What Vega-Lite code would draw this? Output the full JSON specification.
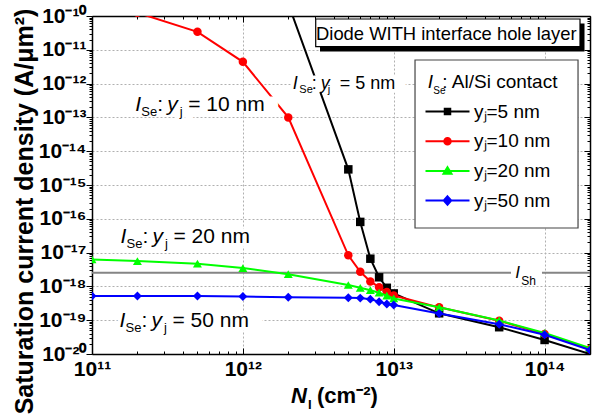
{
  "$schema": "https://vega.github.io/schema/vega-lite/v6.json",
  "width": 498,
  "height": 338,
  "autosize": "none",
  "padding": {"left": 92, "top": 16, "right": 10, "bottom": 60},
  "config": {
    "font": "Liberation Sans",
    "view": {"stroke": null},
    "text": {"font": "Liberation Sans", "color": "black"}
  },
  "datasets": {
    "pts": [
      {"N": 2e12, "J": 2.3e-10, "s": "5 nm"},
      {"N": 5e12, "J": 2.9e-15, "s": "5 nm"},
      {"N": 6e12, "J": 8.1e-17, "s": "5 nm"},
      {"N": 7e12, "J": 6.6e-18, "s": "5 nm"},
      {"N": 8e12, "J": 1.86e-18, "s": "5 nm"},
      {"N": 9e12, "J": 9.1e-19, "s": "5 nm"},
      {"N": 1e13, "J": 6.2e-19, "s": "5 nm"},
      {"N": 2e13, "J": 1.6e-19, "s": "5 nm"},
      {"N": 5e13, "J": 6.2e-20, "s": "5 nm"},
      {"N": 1e14, "J": 2.6e-20, "s": "5 nm"},
      {"N": 2e14, "J": 1.0e-20, "s": "5 nm"},
      {"N": 2e11, "J": 1.25e-10, "s": "10 nm"},
      {"N": 5e11, "J": 3.4e-11, "s": "10 nm"},
      {"N": 1e12, "J": 4.4e-12, "s": "10 nm"},
      {"N": 2e12, "J": 1.0e-13, "s": "10 nm"},
      {"N": 5e12, "J": 8.3e-18, "s": "10 nm"},
      {"N": 6e12, "J": 2.7e-18, "s": "10 nm"},
      {"N": 7e12, "J": 1.4e-18, "s": "10 nm"},
      {"N": 8e12, "J": 9.5e-19, "s": "10 nm"},
      {"N": 9e12, "J": 6.8e-19, "s": "10 nm"},
      {"N": 1e13, "J": 5.4e-19, "s": "10 nm"},
      {"N": 2e13, "J": 2.4e-19, "s": "10 nm"},
      {"N": 5e13, "J": 9.6e-20, "s": "10 nm"},
      {"N": 1e14, "J": 3.9e-20, "s": "10 nm"},
      {"N": 2e14, "J": 1.4e-20, "s": "10 nm"},
      {"N": 1e11, "J": 6.3e-18, "s": "20 nm"},
      {"N": 2e11, "J": 5.6e-18, "s": "20 nm"},
      {"N": 5e11, "J": 4.7e-18, "s": "20 nm"},
      {"N": 1e12, "J": 3.5e-18, "s": "20 nm"},
      {"N": 2e12, "J": 2.3e-18, "s": "20 nm"},
      {"N": 5e12, "J": 1.1e-18, "s": "20 nm"},
      {"N": 6e12, "J": 9.1e-19, "s": "20 nm"},
      {"N": 7e12, "J": 7.7e-19, "s": "20 nm"},
      {"N": 8e12, "J": 6.5e-19, "s": "20 nm"},
      {"N": 9e12, "J": 5.3e-19, "s": "20 nm"},
      {"N": 1e13, "J": 4.4e-19, "s": "20 nm"},
      {"N": 2e13, "J": 2.4e-19, "s": "20 nm"},
      {"N": 5e13, "J": 9.8e-20, "s": "20 nm"},
      {"N": 1e14, "J": 4.2e-20, "s": "20 nm"},
      {"N": 2e14, "J": 1.5e-20, "s": "20 nm"},
      {"N": 1e11, "J": 5.2e-19, "s": "50 nm"},
      {"N": 2e11, "J": 5.2e-19, "s": "50 nm"},
      {"N": 5e11, "J": 5.2e-19, "s": "50 nm"},
      {"N": 1e12, "J": 5.0e-19, "s": "50 nm"},
      {"N": 2e12, "J": 4.8e-19, "s": "50 nm"},
      {"N": 5e12, "J": 4.6e-19, "s": "50 nm"},
      {"N": 6e12, "J": 4.5e-19, "s": "50 nm"},
      {"N": 7e12, "J": 4.2e-19, "s": "50 nm"},
      {"N": 8e12, "J": 3.5e-19, "s": "50 nm"},
      {"N": 9e12, "J": 3.0e-19, "s": "50 nm"},
      {"N": 1e13, "J": 2.8e-19, "s": "50 nm"},
      {"N": 2e13, "J": 1.58e-19, "s": "50 nm"},
      {"N": 5e13, "J": 7.6e-20, "s": "50 nm"},
      {"N": 1e14, "J": 3.7e-20, "s": "50 nm"},
      {"N": 2e14, "J": 1.3e-20, "s": "50 nm"}
    ],
    "labA": [
      {"x": 1.934e11, "y": 1.546e-13, "rest": "= 10 nm", "halo": "ISe: yj = 10 nm"},
      {"x": 1.545e11, "y": 1.884e-17, "rest": "= 20 nm", "halo": "ISe: yj = 20 nm"},
      {"x": 1.522e11, "y": 6.42e-20, "rest": "= 50 nm", "halo": "ISe: yj = 50 nm"}
    ],
    "labB": [
      {"x": 2.143e12, "y": 6.78e-13, "rest": "= 5 nm", "halo": "ISe: yj = 5 nm"}
    ],
    "ltit": [{"x": 1.682e13, "y": 7.26e-13, "rest": ": Al/Si contact"}],
    "ish": [
      {"x": 1e11, "x2": 5.99e13, "v": 2.55e-18},
      {"x": 9.61e13, "x2": 2e14, "v": 2.55e-18}
    ],
    "ishl": [{"x": 6.4e13, "y": 1.81e-18}],
    "legbox": [{"x": 1.384e13, "x2": 1.666e14, "y": 4.99e-12, "y2": 5.34e-17}],
    "shadow": [{"x": 3.246e12, "x2": 1.839e14, "y": 6.0e-11, "y2": 8.91e-12}],
    "tbox": [{"x": 3.04e12, "x2": 1.717e14, "y": 8.15e-11, "y2": 1.235e-11}],
    "ttext": [{"x": 3.054e12, "y": 1.95e-11, "t": "Diode WITH interface hole layer"}],
    "xt": [{"x": 2.085e12, "y": 1e-20}]
  },
  "resolve": {"axis": {"x": "independent", "y": "independent"}},
  "layer": [
    {
      "data": {"name": "legbox"},
      "mark": {"type": "rect", "fill": "white", "stroke": "#444", "strokeWidth": 1.2},
      "encoding": {
        "x": {"field": "x", "type": "quantitative", "scale": {"type": "log", "domain": [1e11, 2e14], "nice": false}, "axis": null},
        "x2": {"field": "x2"},
        "y": {"field": "y", "type": "quantitative", "scale": {"type": "log", "domain": [1e-20, 1e-10], "nice": false}, "axis": null},
        "y2": {"field": "y2"}
      }
    },
    {
      "data": {"name": "ish"},
      "mark": {"type": "rule", "color": "#858585", "strokeWidth": 2},
      "encoding": {
        "x": {"field": "x", "type": "quantitative", "scale": {"type": "log", "domain": [1e11, 2e14], "nice": false}, "axis": null},
        "x2": {"field": "x2"},
        "y": {"field": "v", "type": "quantitative", "scale": {"type": "log", "domain": [1e-20, 1e-10], "nice": false}, "axis": null}
      }
    },
    {
      "data": {"name": "pts"},
      "transform": [{"filter": "datum.s == '5 nm'"}],
      "mark": {"type": "line", "color": "#000000", "strokeWidth": 2, "clip": true,
               "point": {"filled": true, "shape": "square", "size": 72, "color": "#000000", "clip": true}},
      "encoding": {
        "x": {
          "field": "N", "type": "quantitative",
          "scale": {"type": "log", "domain": [1e11, 2e14], "nice": false},
          "axis": {
            "orient": "bottom",
            "values": [1e11,2e11,3e11,4e11,5e11,6e11,7e11,8e11,9e11,1e12,2e12,3e12,4e12,5e12,6e12,7e12,8e12,9e12,1e13,2e13,3e13,4e13,5e13,6e13,7e13,8e13,9e13,1e14,2e14],
            "labelExpr": "abs(log(datum.value)/LN10 - round(log(datum.value)/LN10)) < 0.01 ? '10' + ['¹¹','¹²','¹³','¹⁴'][round(log(datum.value)/LN10) - 11] : ''",
            "labelFont": "Liberation Sans", "labelFontSize": 21, "labelFontWeight": "bold", "labelColor": "black",
            "labelPadding": 10, "labelFlush": false, "labelOverlap": false, "labelBound": false,
            "tickColor": "black", "tickWidth": 1,
            "tickSize": {"condition": {"test": "abs(log(datum.value)/LN10 - round(log(datum.value)/LN10)) < 0.01", "value": -6}, "value": -3},
            "grid": true, "gridColor": "#b0b0b0", "gridDash": [2, 2], "gridWidth": 1,
            "gridOpacity": {"condition": {"test": "abs(log(datum.value)/LN10 - round(log(datum.value)/LN10)) < 0.01", "value": 1}, "value": 0},
            "domainColor": "black", "domainWidth": 1.5,
            "title": null
          }
        },
        "y": {
          "field": "J", "type": "quantitative",
          "scale": {"type": "log", "domain": [1e-20, 1e-10], "nice": false},
          "axis": {
            "orient": "left",
            "values": [1e-20,2e-20,3e-20,4e-20,5e-20,6e-20,7e-20,8e-20,9e-20,1e-19,2e-19,3e-19,4e-19,5e-19,6e-19,7e-19,8e-19,9e-19,1e-18,2e-18,3e-18,4e-18,5e-18,6e-18,7e-18,8e-18,9e-18,1e-17,2e-17,3e-17,4e-17,5e-17,6e-17,7e-17,8e-17,9e-17,1e-16,2e-16,3e-16,4e-16,5e-16,6e-16,7e-16,8e-16,9e-16,1e-15,2e-15,3e-15,4e-15,5e-15,6e-15,7e-15,8e-15,9e-15,1e-14,2e-14,3e-14,4e-14,5e-14,6e-14,7e-14,8e-14,9e-14,1e-13,2e-13,3e-13,4e-13,5e-13,6e-13,7e-13,8e-13,9e-13,1e-12,2e-12,3e-12,4e-12,5e-12,6e-12,7e-12,8e-12,9e-12,1e-11,2e-11,3e-11,4e-11,5e-11,6e-11,7e-11,8e-11,9e-11,1e-10],
            "labelExpr": "abs(log(datum.value)/LN10 - round(log(datum.value)/LN10)) < 0.01 ? '10' + ['⁻²⁰','⁻¹⁹','⁻¹⁸','⁻¹⁷','⁻¹⁶','⁻¹⁵','⁻¹⁴','⁻¹³','⁻¹²','⁻¹¹','⁻¹⁰'][round(log(datum.value)/LN10) + 20] : ''",
            "labelFont": "Liberation Sans", "labelFontSize": 21, "labelFontWeight": "bold", "labelColor": "black",
            "labelPadding": 0, "labelFlush": false, "labelOverlap": false, "labelBound": false,
            "tickColor": "black", "tickWidth": 1,
            "tickSize": {"condition": {"test": "abs(log(datum.value)/LN10 - round(log(datum.value)/LN10)) < 0.01", "value": 6}, "value": 3},
            "grid": true, "gridColor": "#b0b0b0", "gridDash": [2, 2], "gridWidth": 1,
            "gridOpacity": {"condition": {"test": "abs(log(datum.value)/LN10 - round(log(datum.value)/LN10)) < 0.01", "value": 1}, "value": 0},
            "domainColor": "black", "domainWidth": 1.5,
            "title": "Saturation current density (A/μm²)",
            "titleFont": "Liberation Sans", "titleFontSize": 25, "titleFontWeight": "bold", "titleColor": "black",
            "titleAngle": -90, "titleAlign": "center", "titleBaseline": "alphabetic",
            "titleX": -60, "titleY": 195
          }
        }
      }
    },
    {
      "data": {"name": "pts"},
      "transform": [{"filter": "datum.s == '10 nm'"}],
      "mark": {"type": "line", "color": "#ff0000", "strokeWidth": 2, "clip": true,
               "point": {"filled": true, "shape": "circle", "size": 72, "color": "#ff0000", "clip": true}},
      "encoding": {
        "x": {
          "field": "N", "type": "quantitative",
          "scale": {"type": "log", "domain": [1e11, 2e14], "nice": false},
          "axis": {
            "orient": "top",
            "values": [1e11,2e11,3e11,4e11,5e11,6e11,7e11,8e11,9e11,1e12,2e12,3e12,4e12,5e12,6e12,7e12,8e12,9e12,1e13,2e13,3e13,4e13,5e13,6e13,7e13,8e13,9e13,1e14,2e14],
            "labels": false, "grid": false, "title": null,
            "tickColor": "black", "tickWidth": 1,
            "tickSize": {"condition": {"test": "abs(log(datum.value)/LN10 - round(log(datum.value)/LN10)) < 0.01", "value": -6}, "value": -3},
            "domainColor": "black", "domainWidth": 1.5
          }
        },
        "y": {
          "field": "J", "type": "quantitative",
          "scale": {"type": "log", "domain": [1e-20, 1e-10], "nice": false},
          "axis": {
            "orient": "right",
            "values": [1e-20,2e-20,3e-20,4e-20,5e-20,6e-20,7e-20,8e-20,9e-20,1e-19,2e-19,3e-19,4e-19,5e-19,6e-19,7e-19,8e-19,9e-19,1e-18,2e-18,3e-18,4e-18,5e-18,6e-18,7e-18,8e-18,9e-18,1e-17,2e-17,3e-17,4e-17,5e-17,6e-17,7e-17,8e-17,9e-17,1e-16,2e-16,3e-16,4e-16,5e-16,6e-16,7e-16,8e-16,9e-16,1e-15,2e-15,3e-15,4e-15,5e-15,6e-15,7e-15,8e-15,9e-15,1e-14,2e-14,3e-14,4e-14,5e-14,6e-14,7e-14,8e-14,9e-14,1e-13,2e-13,3e-13,4e-13,5e-13,6e-13,7e-13,8e-13,9e-13,1e-12,2e-12,3e-12,4e-12,5e-12,6e-12,7e-12,8e-12,9e-12,1e-11,2e-11,3e-11,4e-11,5e-11,6e-11,7e-11,8e-11,9e-11,1e-10],
            "labels": false, "grid": false, "title": null,
            "tickColor": "black", "tickWidth": 1,
            "tickSize": {"condition": {"test": "abs(log(datum.value)/LN10 - round(log(datum.value)/LN10)) < 0.01", "value": -6}, "value": -3},
            "domainColor": "black", "domainWidth": 1.5
          }
        }
      }
    },
    {
      "data": {"name": "pts"},
      "transform": [{"filter": "datum.s == '20 nm'"}],
      "mark": {"type": "line", "color": "#00ff00", "strokeWidth": 2, "clip": true,
               "point": {"filled": true, "shape": "triangle-up", "size": 80, "color": "#00ff00", "clip": true}},
      "encoding": {
        "x": {"field": "N", "type": "quantitative", "scale": {"type": "log", "domain": [1e11, 2e14], "nice": false}, "axis": null},
        "y": {"field": "J", "type": "quantitative", "scale": {"type": "log", "domain": [1e-20, 1e-10], "nice": false}, "axis": null}
      }
    },
    {
      "data": {"name": "pts"},
      "transform": [{"filter": "datum.s == '50 nm'"}],
      "mark": {"type": "line", "color": "#0000ff", "strokeWidth": 2, "clip": true,
               "point": {"filled": true, "shape": "diamond", "size": 80, "color": "#0000ff", "clip": true}},
      "encoding": {
        "x": {"field": "N", "type": "quantitative", "scale": {"type": "log", "domain": [1e11, 2e14], "nice": false}, "axis": null},
        "y": {"field": "J", "type": "quantitative", "scale": {"type": "log", "domain": [1e-20, 1e-10], "nice": false}, "axis": null}
      }
    },
    {
      "data": {"name": "pts"},
      "mark": {"type": "point", "filled": true, "opacity": 0, "strokeWidth": 2, "clip": true},
      "encoding": {
        "x": {"field": "N", "type": "quantitative", "scale": {"type": "log", "domain": [1e11, 2e14], "nice": false}, "axis": null},
        "y": {"field": "J", "type": "quantitative", "scale": {"type": "log", "domain": [1e-20, 1e-10], "nice": false}, "axis": null},
        "fill": {
          "field": "s", "type": "nominal",
          "scale": {"domain": ["5 nm", "10 nm", "20 nm", "50 nm"], "range": ["#000000", "#ff0000", "#00ff00", "#0000ff"]},
          "legend": {
            "orient": "none", "legendX": 346, "legendY": 86, "title": null,
            "labelExpr": "'yⱼ=' + datum.label",
            "labelFont": "Liberation Sans", "labelFontSize": 19, "labelColor": "black",
            "symbolSize": 100, "symbolStrokeWidth": 2, "symbolOpacity": 1,
            "labelOffset": 17, "rowPadding": 9.7, "padding": 0
          }
        },
        "stroke": {
          "field": "s", "type": "nominal",
          "scale": {"domain": ["5 nm", "10 nm", "20 nm", "50 nm"], "range": ["#000000", "#ff0000", "#00ff00", "#0000ff"]},
          "legend": {
            "orient": "none", "legendX": 346, "legendY": 86, "title": null,
            "labelExpr": "'yⱼ=' + datum.label",
            "labelFont": "Liberation Sans", "labelFontSize": 19, "labelColor": "black",
            "symbolSize": 100, "symbolStrokeWidth": 2, "symbolOpacity": 1,
            "labelOffset": 17, "rowPadding": 9.7, "padding": 0
          }
        },
        "shape": {
          "field": "s", "type": "nominal",
          "scale": {"domain": ["5 nm", "10 nm", "20 nm", "50 nm"], "range": [
            "M-4.4,0H4.4M-0.55,-0.55H0.55V0.55H-0.55Z",
            "M-4.4,0H4.4M-0.65,0A0.65,0.65 0 1,1 0.65,0A0.65,0.65 0 1,1 -0.65,0Z",
            "M-4.4,0H4.4M0,-0.75L0.8,0.55H-0.8Z",
            "M-4.4,0H4.4M0,-0.85L0.75,0L0,0.85L-0.75,0Z"
          ]},
          "legend": {
            "orient": "none", "legendX": 346, "legendY": 86, "title": null,
            "labelExpr": "'yⱼ=' + datum.label",
            "labelFont": "Liberation Sans", "labelFontSize": 19, "labelColor": "black",
            "symbolSize": 100, "symbolStrokeWidth": 2, "symbolOpacity": 1,
            "labelOffset": 17, "rowPadding": 9.7, "padding": 0
          }
        }
      }
    },
    {
      "data": {"name": "labA"},
      "mark": {"type": "text", "align": "left", "baseline": "alphabetic", "fontSize": 21, "fill": "white", "stroke": "white", "strokeWidth": 7},
      "encoding": {
        "x": {"field": "x", "type": "quantitative", "scale": {"type": "log", "domain": [1e11, 2e14], "nice": false}, "axis": null},
        "y": {"field": "y", "type": "quantitative", "scale": {"type": "log", "domain": [1e-20, 1e-10], "nice": false}, "axis": null},
        "text": {"field": "halo"}
      }
    },
    {
      "data": {"name": "labB"},
      "mark": {"type": "text", "align": "left", "baseline": "alphabetic", "fontSize": 18, "fill": "white", "stroke": "white", "strokeWidth": 7},
      "encoding": {
        "x": {"field": "x", "type": "quantitative", "scale": {"type": "log", "domain": [1e11, 2e14], "nice": false}, "axis": null},
        "y": {"field": "y", "type": "quantitative", "scale": {"type": "log", "domain": [1e-20, 1e-10], "nice": false}, "axis": null},
        "text": {"field": "halo"}
      }
    },
    {
      "data": {"name": "labA"},
      "encoding": {
        "x": {"field": "x", "type": "quantitative", "scale": {"type": "log", "domain": [1e11, 2e14], "nice": false}, "axis": null},
        "y": {"field": "y", "type": "quantitative", "scale": {"type": "log", "domain": [1e-20, 1e-10], "nice": false}, "axis": null}
      },
      "layer": [
        {"mark": {"type": "text", "align": "left", "baseline": "alphabetic", "fontSize": 21, "fontStyle": "italic", "text": "I"}},
        {"mark": {"type": "text", "align": "left", "baseline": "alphabetic", "fontSize": 13, "dx": 6, "dy": 5, "text": "Se"}},
        {"mark": {"type": "text", "align": "left", "baseline": "alphabetic", "fontSize": 21, "dx": 22, "text": ":"}},
        {"mark": {"type": "text", "align": "left", "baseline": "alphabetic", "fontSize": 21, "fontStyle": "italic", "dx": 32, "text": "y"}},
        {"mark": {"type": "text", "align": "left", "baseline": "alphabetic", "fontSize": 13, "dx": 44.5, "dy": 5, "text": "j"}},
        {"mark": {"type": "text", "align": "left", "baseline": "alphabetic", "fontSize": 21, "dx": 53}, "encoding": {"text": {"field": "rest"}}}
      ]
    },
    {
      "data": {"name": "labB"},
      "encoding": {
        "x": {"field": "x", "type": "quantitative", "scale": {"type": "log", "domain": [1e11, 2e14], "nice": false}, "axis": null},
        "y": {"field": "y", "type": "quantitative", "scale": {"type": "log", "domain": [1e-20, 1e-10], "nice": false}, "axis": null}
      },
      "layer": [
        {"mark": {"type": "text", "align": "left", "baseline": "alphabetic", "fontSize": 18, "fontStyle": "italic", "text": "I"}},
        {"mark": {"type": "text", "align": "left", "baseline": "alphabetic", "fontSize": 11, "dx": 6.5, "dy": 4, "text": "Se"}},
        {"mark": {"type": "text", "align": "left", "baseline": "alphabetic", "fontSize": 18, "dx": 19, "text": ":"}},
        {"mark": {"type": "text", "align": "left", "baseline": "alphabetic", "fontSize": 18, "fontStyle": "italic", "dx": 28, "text": "y"}},
        {"mark": {"type": "text", "align": "left", "baseline": "alphabetic", "fontSize": 11, "dx": 35, "dy": 4, "text": "j"}},
        {"mark": {"type": "text", "align": "left", "baseline": "alphabetic", "fontSize": 18, "dx": 47}, "encoding": {"text": {"field": "rest"}}}
      ]
    },
    {
      "data": {"name": "ltit"},
      "encoding": {
        "x": {"field": "x", "type": "quantitative", "scale": {"type": "log", "domain": [1e11, 2e14], "nice": false}, "axis": null},
        "y": {"field": "y", "type": "quantitative", "scale": {"type": "log", "domain": [1e-20, 1e-10], "nice": false}, "axis": null}
      },
      "layer": [
        {"mark": {"type": "text", "align": "left", "baseline": "alphabetic", "fontSize": 19, "fontStyle": "italic", "text": "I"}},
        {"mark": {"type": "text", "align": "left", "baseline": "alphabetic", "fontSize": 10, "dx": 5.5, "dy": 6, "text": "Se"}},
        {"mark": {"type": "text", "align": "left", "baseline": "alphabetic", "fontSize": 19, "dx": 14.5}, "encoding": {"text": {"field": "rest"}}}
      ]
    },
    {
      "data": {"name": "ishl"},
      "encoding": {
        "x": {"field": "x", "type": "quantitative", "scale": {"type": "log", "domain": [1e11, 2e14], "nice": false}, "axis": null},
        "y": {"field": "y", "type": "quantitative", "scale": {"type": "log", "domain": [1e-20, 1e-10], "nice": false}, "axis": null}
      },
      "layer": [
        {"mark": {"type": "text", "align": "left", "baseline": "alphabetic", "fontSize": 17, "fontStyle": "italic", "text": "I"}},
        {"mark": {"type": "text", "align": "left", "baseline": "alphabetic", "fontSize": 12, "dx": 6, "dy": 7, "text": "Sh"}}
      ]
    },
    {
      "data": {"name": "shadow"},
      "mark": {"type": "rect", "fill": "black"},
      "encoding": {
        "x": {"field": "x", "type": "quantitative", "scale": {"type": "log", "domain": [1e11, 2e14], "nice": false}, "axis": null},
        "x2": {"field": "x2"},
        "y": {"field": "y", "type": "quantitative", "scale": {"type": "log", "domain": [1e-20, 1e-10], "nice": false}, "axis": null},
        "y2": {"field": "y2"}
      }
    },
    {
      "data": {"name": "tbox"},
      "mark": {"type": "rect", "fill": "white", "stroke": "black", "strokeWidth": 1.2},
      "encoding": {
        "x": {"field": "x", "type": "quantitative", "scale": {"type": "log", "domain": [1e11, 2e14], "nice": false}, "axis": null},
        "x2": {"field": "x2"},
        "y": {"field": "y", "type": "quantitative", "scale": {"type": "log", "domain": [1e-20, 1e-10], "nice": false}, "axis": null},
        "y2": {"field": "y2"}
      }
    },
    {
      "data": {"name": "ttext"},
      "mark": {"type": "text", "align": "left", "baseline": "alphabetic", "fontSize": 18.4},
      "encoding": {
        "x": {"field": "x", "type": "quantitative", "scale": {"type": "log", "domain": [1e11, 2e14], "nice": false}, "axis": null},
        "y": {"field": "y", "type": "quantitative", "scale": {"type": "log", "domain": [1e-20, 1e-10], "nice": false}, "axis": null},
        "text": {"field": "t"}
      }
    },
    {
      "data": {"name": "xt"},
      "encoding": {
        "x": {"field": "x", "type": "quantitative", "scale": {"type": "log", "domain": [1e11, 2e14], "nice": false}, "axis": null},
        "y": {"field": "y", "type": "quantitative", "scale": {"type": "log", "domain": [1e-20, 1e-10], "nice": false}, "axis": null}
      },
      "layer": [
        {"mark": {"type": "text", "align": "left", "baseline": "alphabetic", "fontSize": 22, "fontWeight": "bold", "fontStyle": "italic", "dy": 49, "text": "N"}},
        {"mark": {"type": "text", "align": "left", "baseline": "alphabetic", "fontSize": 13, "fontWeight": "bold", "dx": 17, "dy": 55, "text": "I"}},
        {"mark": {"type": "text", "align": "left", "baseline": "alphabetic", "fontSize": 22, "fontWeight": "bold", "dx": 26, "dy": 49, "text": "(cm⁻²)"}}
      ]
    }
  ]
}
